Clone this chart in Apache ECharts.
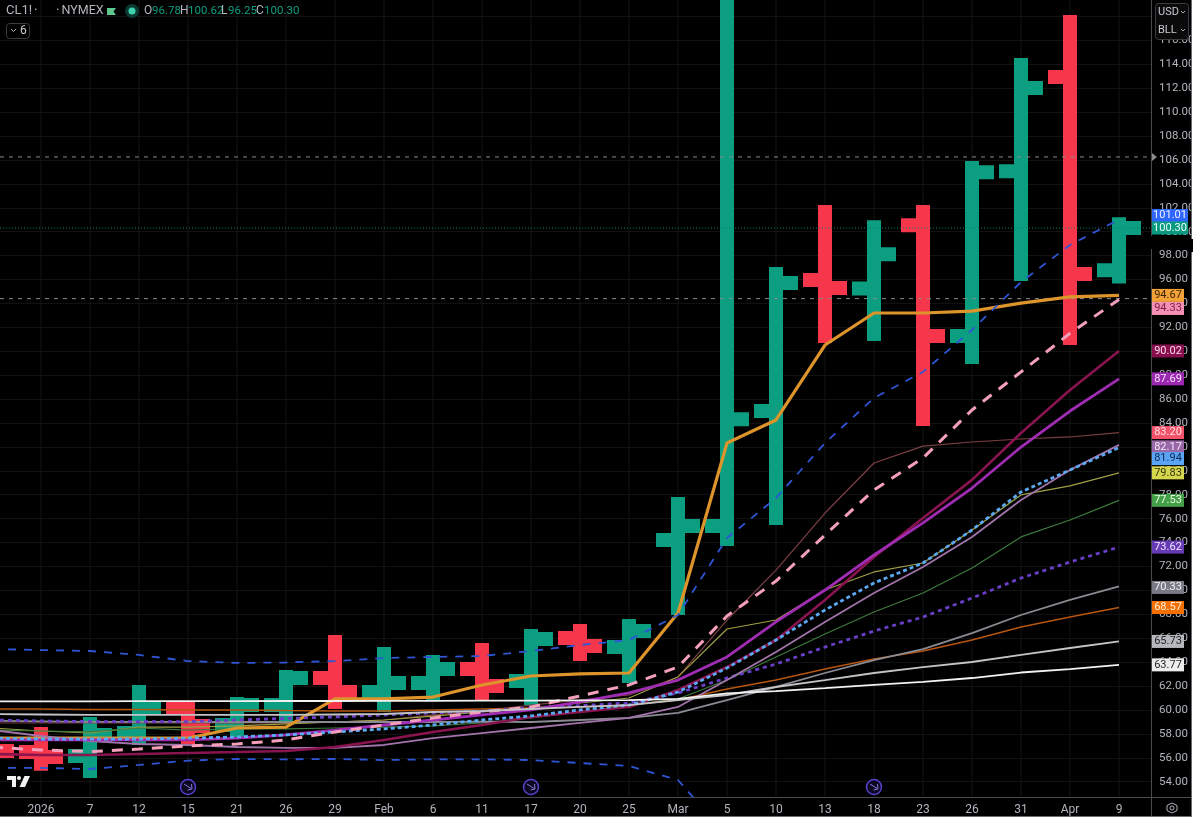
<!DOCTYPE html>
<html><head><meta charset="utf-8">
<style>html,body{margin:0;padding:0;background:#fff}#c{width:1200px;height:819px}</style>
<script src="https://cdn.jsdelivr.net/npm/echarts@6/dist/echarts.min.js"></script>
</head><body><div id="c"></div>
<script>
const xLabels = ['', '2026','7','12','15','21','26','29','Feb','6','11','17','20','25','Mar','5','10','13','18','23','26','31','Apr','9'];
const opens  = [56.82,56.48,56.15,58.07,60.16,58.74,60.41,62.67,61.50,62.25,63.42,62.42,66.02,65.26,74.22,75.39,85.00,95.96,95.25,100.54,91.27,105.06,112.93,96.78];
const highs  = [57.50,57.99,58.83,61.50,60.16,60.50,62.76,65.68,64.68,64.01,65.01,66.18,66.60,67.02,77.22,122.0,96.47,101.65,100.37,101.65,105.32,113.94,117.53,100.62];
const lows   = [55.50,55.49,54.90,57.65,57.74,58.32,59.49,60.67,60.41,61.42,61.42,61.00,64.68,62.84,68.53,74.29,76.05,91.27,91.44,84.33,89.52,96.46,91.10,96.25];
const closes = [56.57,56.07,57.90,60.16,58.66,60.41,62.67,61.50,62.25,63.42,62.00,65.93,65.35,66.60,75.39,84.32,95.71,95.29,98.11,91.27,104.98,112.01,96.46,100.30];

const whiteMA  = [60.72,60.72,60.72,60.73,60.74,60.74,60.75,60.75,60.76,60.76,60.78,60.78,60.80,60.82,60.92,61.38,61.58,61.83,62.09,62.34,62.67,63.13,63.42,63.77];
const silverMA = [59.66,59.62,59.58,59.58,59.58,59.58,59.58,59.62,59.66,59.83,59.91,60.08,60.25,60.41,60.83,61.25,61.92,62.50,63.09,63.59,64.01,64.60,65.18,65.73];
const orangeMA = [60.08,60.08,60.04,60.04,60.00,60.00,59.95,59.91,59.91,60.00,60.08,60.16,60.25,60.41,60.83,61.75,62.50,63.42,64.26,64.93,65.85,66.94,67.77,68.57];
const grayMA   = [59.10,59.05,59.00,59.00,59.00,58.99,58.99,58.99,58.99,58.99,59.03,58.99,59.16,59.33,59.75,60.83,61.92,63.09,64.17,65.09,66.43,67.94,69.20,70.33];
const violetMA = [59.16,59.08,59.03,59.03,59.03,59.16,59.29,59.41,59.58,59.75,59.91,60.16,60.36,60.58,61.42,62.67,63.84,65.26,66.60,67.77,69.36,71.03,72.37,73.62];
const greenMA  = [58.32,58.24,58.16,58.49,58.32,58.41,58.41,58.49,58.57,58.66,58.91,59.33,59.83,60.41,60.92,62.50,64.43,66.35,68.19,69.78,71.87,74.47,75.89,77.53];
const oliveMA  = [58.49,58.24,58.07,58.57,58.57,58.66,58.83,58.99,59.16,59.49,59.83,60.16,60.58,61.00,62.76,66.77,67.52,70.03,71.54,72.29,75.05,77.98,78.74,79.83];
const mauveMA  = [58.32,57.82,57.40,57.15,57.07,56.90,56.82,56.82,57.07,57.65,58.07,58.49,58.91,59.33,60.25,62.50,64.85,67.36,69.78,71.96,74.47,77.56,80.07,82.17];
const skyMA    = [57.65,57.57,57.57,57.57,57.65,57.74,57.91,58.16,58.41,58.74,59.16,59.50,60.00,60.41,61.50,63.51,65.85,68.36,70.62,72.29,75.05,78.23,80.07,81.94];
const brownMA  = [58.91,58.91,58.91,58.91,58.91,58.91,58.91,58.99,59.16,59.58,59.91,60.41,60.83,61.25,62.76,67.52,71.70,76.47,80.65,82.07,82.41,82.66,82.83,83.20];
const purpleMA = [57.49,57.49,57.49,57.49,57.49,57.65,57.91,58.32,58.74,59.16,59.58,60.00,60.67,61.42,62.50,64.43,67.36,70.03,72.96,75.64,78.56,81.99,85.00,87.69];
const magentaMA= [56.32,56.23,56.23,56.32,56.40,56.48,56.57,56.90,57.49,58.16,58.74,59.41,59.83,60.25,61.67,63.59,65.85,69.20,72.79,76.05,79.24,83.16,86.76,90.02];
const pinkMA   = [56.90,56.65,56.52,56.73,56.99,57.15,57.49,58.16,58.74,59.33,59.83,60.25,61.17,62.09,63.59,67.86,70.78,74.63,78.40,81.07,85.09,88.27,91.50,94.33];
const goldMA   = [57.65,57.65,57.65,57.65,57.65,58.49,58.57,60.92,60.92,61.08,62.09,62.84,63.01,63.09,68.11,82.33,84.25,90.52,93.20,93.20,93.36,94.03,94.54,94.67];
const bandUp   = [65.10,65.01,64.93,64.60,64.09,63.93,63.97,64.09,64.34,64.43,64.51,64.93,65.43,65.85,67.94,74.38,77.72,82.33,86.09,88.27,91.78,95.79,98.89,101.01];
const bandLow  = [55.17,55.15,55.06,55.40,55.76,55.90,55.87,55.90,55.81,55.87,55.87,55.81,55.56,55.31,54.14,49.46];
const grayLevels = [106.25, 94.40];
const lastPrice = 100.30;
const eventBars = [3, 10, 17];

const C_UP='#0b9e80', C_DOWN='#f5364b';
const lineDefs = [
  [bandLow,  '#2f55d4',1.8,[8,8]],
  [brownMA,  '#7c3f42',1.2,null],
  [oliveMA,  '#a0a044',1.2,null],
  [greenMA,  '#3d7a3c',1.2,null],
  [orangeMA, '#b8560e',1.4,null],
  [grayMA,   '#8a8b92',1.8,null],
  [goldMA,   '#dd942b',3.2,null],
  [violetMA, '#6a3fc8',2.8,[4,4]],
  [mauveMA,  '#a274ab',1.8,null],
  [magentaMA,'#8a1450',2.6,null],
  [purpleMA, '#a02cb4',2.8,null],
  [skyMA,    '#5aa9f2',2.8,[4,3]],
  [pinkMA,   '#f4a0bc',3,[11,9]],
  [silverMA, '#c4c4c8',1.8,null],
  [whiteMA,  '#f2f2f2',1.8,null],
  [bandUp,   '#2f55d4',1.8,[8,8]]
];
const tagDefs = [
  [bandUp,'#2f66ff','#eef2ff',36,-4],[[lastPrice],'#0a9a80','#eafff8',36,0],
  [goldMA,'#f2a236','#3a2400',32,0],[pinkMA,'#f490b4','#7a1f45',32,9],
  [magentaMA,'#880e4f','#f5d9e6',32,0],[purpleMA,'#9c27b0','#f6e3fa',32,0],
  [brownMA,'#f4526a','#ffe1e4',32,0],[mauveMA,'#9a68a8','#f4e9f6',32,2],
  [skyMA,'#5aa3f5','#0c2a52',32,11],[oliveMA,'#d6d64e','#33330a',32,0],
  [greenMA,'#43a047','#eaf7ea',32,0],[violetMA,'#673ab7','#efe8fa',32,0],
  [grayMA,'#787b86','#f4f4f6',32,1],[orangeMA,'#f57000','#fff0e0',32,0],
  [silverMA,'#b6b8be','#22242a',32,0],[whiteMA,'#ececec','#22242a',32,0]
];
const FONT='"Liberation Sans Narrow", Roboto, sans-serif';
const last=a=>a[a.length-1];
const idx=xLabels.map((_,i)=>i-1);
const ohlc=idx.map((x,i)=>[x,opens[i],highs[i],lows[i],closes[i]]);

const series=[];
series.push({type:'custom',z:1,silent:true,clip:true,data:idx.map(x=>[x]),encode:{x:0},
  renderItem(p,api){const a=api.coord([api.value(0),120]),b=api.coord([api.value(0),52]);
    return {type:'line',shape:{x1:a[0],y1:a[1],x2:b[0],y2:b[1]},style:{stroke:'#151515',lineWidth:1}};}});
series.push({type:'custom',z:2,silent:true,clip:true,data:ohlc,encode:{x:0,y:[1,2,3,4]},
  renderItem(p,api){
    const x=api.value(0),o=api.value(1),h=api.value(2),l=api.value(3),c=api.value(4);
    const col=c>=o?C_UP:C_DOWN;
    const ph=api.coord([x,h]),pl=api.coord([x,l]),po=api.coord([x,o]),pc=api.coord([x,c]);
    const w=14,t=14,hw=w/2;
    return {type:'group',children:[
      {type:'line',shape:{x1:ph[0],y1:ph[1],x2:pl[0],y2:pl[1]},style:{stroke:col,lineWidth:w,lineCap:'square'}},
      {type:'rect',shape:{x:po[0]-hw-15,y:po[1]-t/2,width:15,height:t},style:{fill:col}},
      {type:'rect',shape:{x:pc[0]+hw,y:pc[1]-t/2,width:15,height:t},style:{fill:col}}
    ]};}});
lineDefs.forEach((d,n)=>series.push({type:'line',z:3+n*0.01,silent:true,symbol:'none',smooth:false,clip:true,
  data:d[0].map((v,i)=>[i-1,v]),lineStyle:{color:d[1],width:d[2],type:d[3]||'solid'}}));
series.push({type:'custom',z:3,silent:true,clip:false,data:grayLevels.map(v=>[v]),encode:{y:0},
  renderItem(p,api){const y=api.coord([0,api.value(0)])[1];
    return {type:'group',children:[
      {type:'line',shape:{x1:0,y1:y,x2:1151,y2:y},style:{stroke:'#8c8c8c',lineWidth:1,lineDash:[4,5]}},
      {type:'polygon',shape:{points:[[1152,y-4],[1157,y],[1152,y+4]]},style:{fill:'#8c8c8c'}}
    ]};}});
series.push({type:'custom',z:3,silent:true,clip:false,data:[[lastPrice]],encode:{y:0},
  renderItem(p,api){const y=api.coord([0,api.value(0)])[1];
    return {type:'line',shape:{x1:0,y1:y,x2:1151,y2:y},style:{stroke:'#0b7f69',lineWidth:1,lineDash:[1,2]}};}});
series.push({type:'custom',z:6,silent:true,clip:false,data:eventBars.map(v=>[v]),encode:{x:0},
  renderItem(p,api){const x=api.coord([api.value(0),54])[0],y=787;
    return {type:'group',children:[
      {type:'circle',shape:{cx:x,cy:y,r:7.5},style:{fill:'#0c0820',stroke:'#5a3fd0',lineWidth:1.5}},
      {type:'polyline',shape:{points:[[x-4,y-3],[x+3,y+1.5]]},style:{stroke:'#8a78e0',lineWidth:1,fill:null}},
      {type:'polyline',shape:{points:[[x+3.5,y-3],[x+4,y+2],[x-0.5,y+3]]},style:{stroke:'#8a78e0',lineWidth:1,fill:null}}
    ]};}});
series.push({type:'custom',z:8,silent:true,clip:false,data:tagDefs.map((d,i)=>[last(d[0]),i]),encode:{y:0},
  renderItem(p,api){const v=api.value(0),d=tagDefs[api.value(1)];
    const y=api.coord([0,v])[1]+d[4],tw=d[3];
    return {type:'group',children:[
      {type:'rect',shape:{x:1152,y:y-6.5,width:tw,height:13},style:{fill:d[1]}},
      {type:'text',style:{x:1152+tw/2,y:y,text:v.toFixed(2),fill:d[2],font:'11px '+FONT,align:'center',verticalAlign:'middle'}}
    ]};}});

const T=(x,y,text,fill,size,extra)=>Object.assign({type:'text',z:40,silent:true,style:{x,y,text,fill,font:(size||12)+'px '+FONT,verticalAlign:'middle'}},extra||{});
const R=(x,y,w,h,fill,z,stroke,r)=>({type:'rect',z:z,silent:true,shape:{x,y,width:w,height:h,r:r||0},style:{fill:fill,stroke:stroke||null,lineWidth:1}});
const P=(pts,fill,z)=>({type:'polygon',z:z||40,silent:true,shape:{points:pts},style:{fill}});
const Ln=(x1,y1,x2,y2,c,z)=>({type:'line',z:z||30,silent:true,shape:{x1,y1,x2,y2},style:{stroke:c,lineWidth:1}});
const graphicEls=[
  R(0,797,1200,22,'#000',7),
  R(1152,236,40,13,'#000',9),
  R(1155.5,3.5,33,36,'#0a0a0a',9,'#3a3c42',3),
  T(1158,12,'USD','#c8cad0',11),T(1158,30,'BLL','#c8cad0',11),
  {type:'polyline',z:40,silent:true,shape:{points:[[1181,11],[1183,13],[1185,11]]},style:{stroke:'#aaa',fill:null}},
  {type:'polyline',z:40,silent:true,shape:{points:[[1181,29],[1183,31],[1185,29]]},style:{stroke:'#aaa',fill:null}},
  T(6,11,'CL1!','#b2b5be',13),T(34,11,'·','#b2b5be',14),T(56,11,'·','#b2b5be',14),T(61.5,11,'NYMEX','#b2b5be',12.5),
  P([[107,8],[116,8],[113.5,11.5],[116,15],[107,15]],'#5fc98d'),
  {type:'circle',z:39,silent:true,shape:{cx:132,cy:11,r:7},style:{fill:'#0c3a33'}},
  {type:'circle',z:40,silent:true,shape:{cx:132,cy:11,r:3.5},style:{fill:'#3fd0b0'}},
  T(144,11,'O','#b2b5be',12),T(152,11,'96.78','#0b9e80',11.5),
  T(180,11,'H','#b2b5be',12),T(188,11,'100.62','#0b9e80',11.5),
  T(221,11,'L','#b2b5be',12),T(228,11,'96.25','#0b9e80',11.5),
  T(256,11,'C','#b2b5be',12),T(264,11,'100.30','#0b9e80',11.5),
  R(6.5,23.5,23,15,'#000',39,'#3a3c42',3),
  {type:'polyline',z:40,silent:true,shape:{points:[[11,29],[13.5,31.5],[16,29]]},style:{stroke:'#b2b5be',fill:null}},
  T(20,31,'6','#c8cad0',12),
  P([[7,776],[16,776],[16,787],[12,787],[12,780],[7,780]],'#f2f2f2'),
  {type:'circle',z:40,silent:true,shape:{cx:19,cy:778,r:2},style:{fill:'#f2f2f2'}},
  P([[24.5,776],[30,776],[25,787],[19.5,787]],'#f2f2f2'),
  Ln(0,797.5,1191,797.5,'#4a4b50'),
  Ln(1151.5,0,1151.5,236,'#4a4b50'),Ln(1151.5,249,1151.5,817,'#4a4b50'),
  {type:'polygon',z:40,silent:true,shape:{points:[[1172,803],[1177,805.5],[1177,810.5],[1172,813],[1167,810.5],[1167,805.5]]},style:{fill:null,stroke:'#b2b5be',lineWidth:1}},
  {type:'circle',z:40,silent:true,shape:{cx:1172,cy:808,r:2},style:{fill:null,stroke:'#b2b5be',lineWidth:1}},
  R(1192,0,8,819,'#fff',50),R(0,817,1200,2,'#fff',50),
  Ln(1191.5,0,1191.5,817,'#6a6b70',51),Ln(0,816.5,1192,816.5,'#6a6b70',51),
  R(1189,239,4,13,'#000',52)
];

const chart=echarts.init(document.getElementById('c'),null,{renderer:'canvas'});
chart.setOption({
  animation:false,backgroundColor:'#000',
  grid:{left:-8,top:-7.46,width:1159,height:813.06,show:false,containLabel:false,outerBoundsMode:'none'},
  xAxis:{type:'value',min:-1,max:22.653,interval:1,z:10,offset:-8.6,position:'bottom',
    axisLine:{show:false,onZero:false},axisTick:{show:false},splitLine:{show:false},
    axisLabel:{margin:7,color:'#b2b5be',fontSize:12,fontFamily:FONT,hideOverlap:false,
      formatter:v=>Number.isInteger(v)?(xLabels[v+1]||''):''}},
  yAxis:{type:'value',position:'right',min:52,max:120,interval:2,
    axisLine:{show:false},axisTick:{show:false},
    splitLine:{show:true,lineStyle:{color:'#121212',width:1}},
    axisLabel:{margin:8,padding:[5,0,0,0],color:'#b2b5be',fontSize:11.5,fontFamily:FONT,
      formatter:v=>(v<=116&&v>=54)?v.toFixed(2):''}},
  series:series,
  graphic:{elements:graphicEls}
});
</script></body></html>
